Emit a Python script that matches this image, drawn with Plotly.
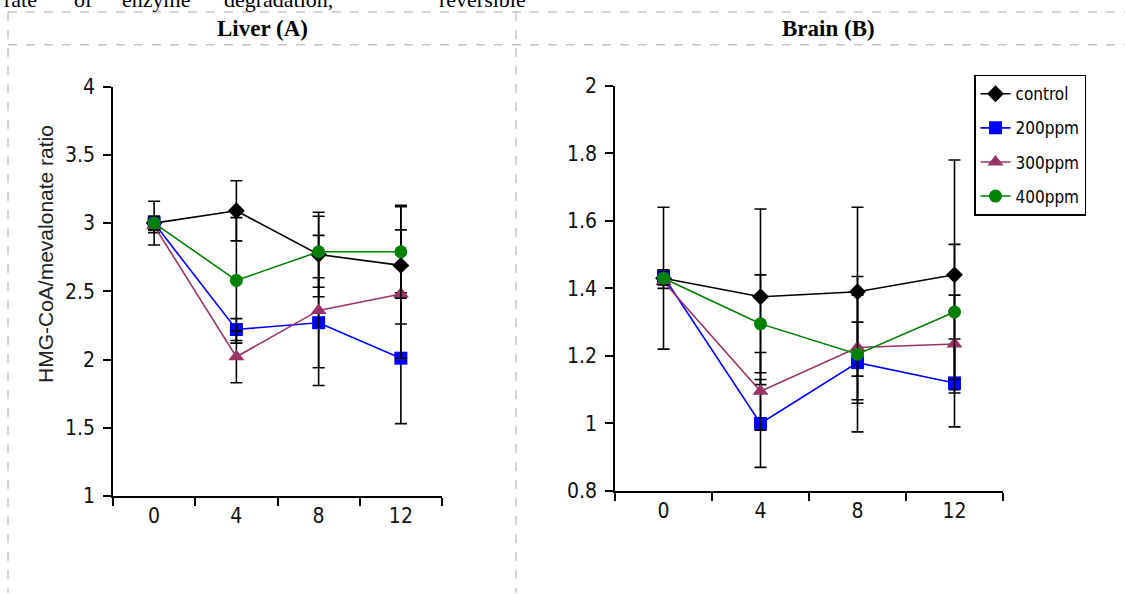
import plotly.graph_objects as go

weeks = ["0", "4", "8", "12"]
series_names = ["control", "200ppm", "300ppm", "400ppm"]

liver_control = [3.00, 3.09, 2.77, 2.69]
liver_200 = [3.00, 2.22, 2.27, 2.01]
liver_300 = [2.98, 2.02, 2.36, 2.48]
liver_400 = [3.00, 2.58, 2.79, 2.79]

liver_control_err = [0.16, 0.22, 0.31, 0.43]
liver_200_err = [0.05, 0.08, 0.33, 0.48]
liver_300_err = [0.05, 0.19, 0.55, 0.47]
liver_400_err = [0.05, 0.46, 0.26, 0.34]

brain_control = [1.43, 1.375, 1.39, 1.44]
brain_200 = [1.435, 1.00, 1.18, 1.12]
brain_300 = [1.42, 1.095, 1.225, 1.235]
brain_400 = [1.43, 1.295, 1.205, 1.33]

brain_control_err = [0.21, 0.26, 0.25, 0.34]
brain_200_err = [0.02, 0.13, 0.12, 0.13]
brain_300_err = [0.02, 0.115, 0.155, 0.145]
brain_400_err = [0.02, 0.145, 0.23, 0.20]

# sentence fragment above the table (cut off at the top in the source)
top_words = ["rate", "of", "enzyme", "degradation,", "reversible"]
top_word_x = [2, 72, 120, 222, 437]

W, H = 1125, 616
REF_H = 594.4
def px(x):
    return x / W
def py(y):
    return 1 - y / REF_H

colors = ["#000000", "#0000FF", "#993366", "#008000"]
symbols = ["diamond", "square", "triangle-up", "circle"]
sizes = [13, 13, 14, 13]

liver = [liver_control, liver_200, liver_300, liver_400]
liver_err = [liver_control_err, liver_200_err, liver_300_err, liver_400_err]
brain = [brain_control, brain_200, brain_300, brain_400]
brain_err = [brain_control_err, brain_200_err, brain_300_err, brain_400_err]

serif = "Liberation Serif, Times New Roman, serif"
narrow = "Liberation Sans Narrow, Arial Narrow, DejaVu Sans Condensed, sans-serif"

fig = go.Figure()
for i, name in enumerate(series_names):
    fig.add_trace(go.Scatter(
        x=weeks, y=liver[i], name=name, mode="lines+markers",
        line=dict(color=colors[i], width=1.6),
        marker=dict(symbol=symbols[i], size=sizes[i], color=colors[i]),
        error_y=dict(type="data", array=liver_err[i], color="black", thickness=1.6, width=6),
        xaxis="x", yaxis="y", showlegend=False, legendgroup=name))
for i, name in enumerate(series_names):
    fig.add_trace(go.Scatter(
        x=weeks, y=brain[i], name=name, mode="lines+markers",
        line=dict(color=colors[i], width=1.6),
        marker=dict(symbol=symbols[i], size=sizes[i], color=colors[i]),
        error_y=dict(type="data", array=brain_err[i], color="black", thickness=1.6, width=6),
        xaxis="x2", yaxis="y2", showlegend=True, legendgroup=name))

tickfont = dict(family=narrow, size=21, color="#111")
common_x = dict(type="category", tickson="boundaries", ticks="outside", ticklen=8, tickwidth=1.5,
                tickcolor="black", showline=True, linecolor="black", linewidth=1.5,
                showgrid=False, zeroline=False, tickfont=tickfont, range=[-0.5, 3.5], fixedrange=True)
common_y = dict(ticks="outside", ticklen=8, tickwidth=1.5, tickcolor="black", showline=True,
                linecolor="black", linewidth=1.5, showgrid=False, zeroline=False, tickfont=tickfont,
                ticklabelstandoff=4)

fig.update_layout(
    width=W, height=H, margin=dict(l=0, r=0, t=0, b=0),
    paper_bgcolor="white", plot_bgcolor="rgba(0,0,0,0)",
    xaxis=dict(domain=[px(113), px(442)], anchor="y", **common_x),
    yaxis=dict(domain=[py(497), py(86)], anchor="x", range=[1, 4], dtick=0.5, tick0=1, **common_y),
    xaxis2=dict(domain=[px(615), px(1003)], anchor="y2", **common_x),
    yaxis2=dict(domain=[py(492), py(85)], anchor="x2", range=[0.8, 2], dtick=0.2, tick0=0.8, **common_y),
    legend=dict(x=px(974), y=py(74), xanchor="left", yanchor="top",
                bordercolor="black", borderwidth=1.5, bgcolor="white",
                font=dict(family=narrow, size=17, color="black"),
                tracegroupgap=9, traceorder="grouped", itemwidth=30),
    showlegend=True,
)

border = dict(color="#aaaaaa", width=1, dash="dash")
shapes = [
    dict(type="line", xref="paper", yref="paper", x0=px(8), x1=1, y0=py(11), y1=py(11), line=border),
    dict(type="line", xref="paper", yref="paper", x0=px(8), x1=1, y0=py(44), y1=py(44), line=border),
    dict(type="line", xref="paper", yref="paper", x0=px(8), x1=px(8), y0=py(11), y1=0, line=border),
    dict(type="line", xref="paper", yref="paper", x0=px(516), x1=px(516), y0=py(11), y1=0, line=border),
]
fig.update_layout(shapes=shapes)

annotations = [
    dict(text="<b>Liver (A)</b>", x=px(262), y=py(28), xref="paper", yref="paper", showarrow=False,
         font=dict(family=serif, size=23, color="black"), xanchor="center", yanchor="middle"),
    dict(text="<b>Brain (B)</b>", x=px(828), y=py(28), xref="paper", yref="paper", showarrow=False,
         font=dict(family=serif, size=23, color="black"), xanchor="center", yanchor="middle"),
    dict(text="HMG-CoA/mevalonate ratio", x=px(46), y=py(254), xref="paper", yref="paper", showarrow=False,
         textangle=-90, font=dict(family="Liberation Sans, Arial, sans-serif", size=21, color="#222"),
         xanchor="center", yanchor="middle"),
]
for w, x0 in zip(top_words, top_word_x):
    annotations.append(dict(text=w, x=px(x0), y=py(-1.5), xref="paper", yref="paper", showarrow=False,
                            font=dict(family=serif, size=22, color="black"), xanchor="left", yanchor="middle"))
fig.update_layout(annotations=annotations)

post = ("document.documentElement.style.margin='0';document.body.style.margin='0';"
        "document.body.style.padding='0';document.body.style.overflow='hidden';"
        "var gd=document.getElementById('{plot_id}');gd.style.position='absolute';"
        "gd.style.top='-10.8px';gd.style.left='0px';")
fig.write_html("out.html", post_script=post, config={"displayModeBar": False})
